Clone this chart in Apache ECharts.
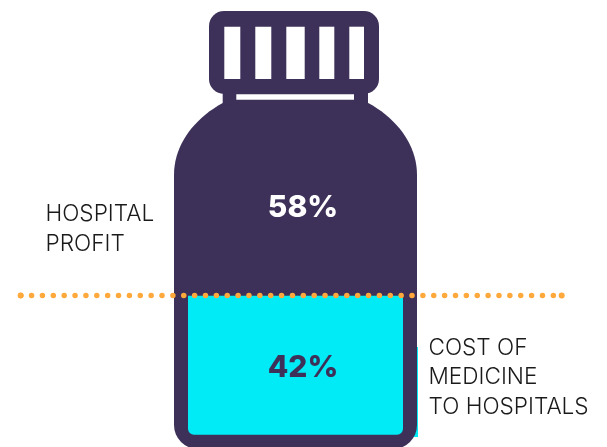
<!DOCTYPE html>
<html>
<head>
<meta charset="utf-8">
<style>html,body{margin:0;padding:0;background:#fff}#chart{width:607px;height:447px}</style>
<script src="https://cdn.jsdelivr.net/npm/echarts@6/dist/echarts.min.js"></script>
</head>
<body>
<div id="chart"></div>
<script>
// Share of the hospital price, stacked from the bottom of the bottle upward
const categories = ['Medicine price'];
const costOfMedicine = [42];
const hospitalProfit = [58];
const costLabel = ['COST OF', 'MEDICINE', 'TO HOSPITALS'];
const profitLabel = ['HOSPITAL', 'PROFIT'];

const PURPLE = '#3d3159';
const CYAN = '#00ebf6';
const ORANGE = '#ffa93c';
const FONT = 'Inter, "Open Sans", sans-serif';

// Bottle silhouette, drawn behind the bars
const purple = { fill: PURPLE };
const white = { fill: '#ffffff' };
const rect = (x, y, width, height, style, r) => ({
  type: 'rect', z: 0, silent: true,
  shape: { x, y, width, height, r: r || 0 }, style
});
const capSlots = [[224.3, 16], [255.3, 16], [286.3, 18.4], [319.3, 15], [349.3, 14.7]];
const bottle = [
  rect(400, 347, 18, 90, { fill: CYAN }),
  { type: 'ellipse', z: 0, silent: true, shape: { cx: 295.5, cy: 175, rx: 121.5, ry: 90 }, style: purple },
  rect(174, 175, 243, 274, purple, 24),
  rect(174, 175, 243, 100, purple),
  rect(222.7, 85, 145.3, 40, purple),
  rect(209, 11, 170, 83, purple, 15),
  ...capSlots.map(([x, w]) => rect(x, 26.7, w, 52.3, white)),
  rect(236.3, 94.3, 117.7, 5.4, white)
];

const sideText = (lines, x, y) => ({
  type: 'text', z: 5, silent: true, x, y,
  style: {
    text: lines.join('\n'), font: '300 22.6px ' + FONT,
    fill: '#1a1a1a', lineHeight: 29.3, textVerticalAlign: 'top'
  }
});

const valueLabel = (color, offset) => ({
  show: true, position: 'inside', offset,
  formatter: '{c}%', color, fontFamily: FONT, fontWeight: 800, fontSize: 30
});

const grid = { left: 188, width: 215, top: 103, height: 331.7 };
const hiddenY = { type: 'value', min: 0, max: 100, show: false };

const chart = echarts.init(document.getElementById('chart'), null, { renderer: 'canvas' });
chart.setOption({
  animation: false,
  graphic: {
    elements: [
      ...bottle,
      sideText(profitLabel, 45.5, 200),
      sideText(costLabel, 428.5, 333.5)
    ]
  },
  grid: [grid, { left: 0, width: 607, top: grid.top, height: grid.height }],
  xAxis: [
    { type: 'category', data: categories, show: false, gridIndex: 0 },
    { type: 'value', min: 0, max: 607, show: false, gridIndex: 1 }
  ],
  yAxis: [{ ...hiddenY, gridIndex: 0 }, { ...hiddenY, gridIndex: 1 }],
  series: [
    {
      name: 'Cost of medicine to hospitals', type: 'bar', stack: 'price', barWidth: '100%',
      data: costOfMedicine,
      itemStyle: { color: CYAN, borderRadius: [0, 0, 6, 6] },
      label: valueLabel(PURPLE, [7.5, 3])
    },
    {
      name: 'Hospital profit', type: 'bar', stack: 'price', barWidth: '100%',
      data: hospitalProfit,
      itemStyle: { color: PURPLE, borderRadius: [55, 55, 0, 0] },
      label: valueLabel('#ffffff', [7.5, 9])
    },
    {
      // Dotted divider at the level where the two shares meet
      name: 'Divider', type: 'line', xAxisIndex: 1, yAxisIndex: 1, z: 6,
      data: [[20.7, costOfMedicine[0]], [561.7, costOfMedicine[0]]],
      symbol: 'circle', symbolSize: 6, showSymbol: true,
      itemStyle: { color: ORANGE },
      lineStyle: { color: ORANGE, width: 5.5, type: [0, 10.87], cap: 'round' },
      silent: true
    }
  ]
});
</script>
</body>
</html>
